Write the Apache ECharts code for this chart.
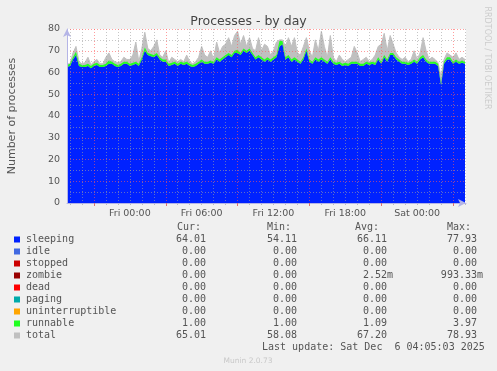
<!DOCTYPE html>
<html><head><meta charset="utf-8">
<script src="https://cdn.jsdelivr.net/npm/echarts@6/dist/echarts.min.js"></script>
<style>html,body{margin:0;padding:0;background:#f0f0f0}#c{width:497px;height:371px}</style>
</head><body><div id="c"></div>
<script>
// time axis: hours relative to Fri 00:00, one sample every 15 minutes starting Thu 18:45
const startHour = -5.25;
const stepHour = 0.25;
const axisMin = -5.25, axisMax = 28.0833;

const sleeping = [
62.5,63,66,68,63,62.5,62.5,63,62,63,63.5,62.5,62.5,63,64,64,63,62.5,63,64,
64,63,63.5,64,63,66,70,68,67.5,67,68,66,65,65,63,63.5,64,63,64,63.5,
64,63,62.5,63,64,65,64,64,64.5,64,66,65,66,67,68,67,69,69,68,70,
69,70,68,66,67,66,65,66,65,66,67,72,73,66,67,65,66,65,64,66,
70,65,64,66,65,66,65,64,66,64,63.5,64,63,63.5,63,64,64,64,63,63,
64,63.5,64,63.5,66,64,67,65,68,68,66,65,64,64,63.5,64,65,64,66,67,
65,64,64,64,63,54.1,64,66,66,64,65,64,64.5,64
];
const runnable = [
1,1,1,1.5,1,1,1,1,1,1,1,1,1,1,1.5,1,1,1,1,1,
1,1,1,1,1,1,1.5,1,1,1,1,1,1,1,1,1,1,1,1,1,
1,1,1,1,1,1,1,1,1,1,1,1,1,1,1,1,1,1.5,1,1,
1,1,1,1,1,1,1,1,1,1,1,2.5,1.5,1,1,1,1,1,1,1,
1,1,1,1,1,1,1,1,1,1,1,1,1,1,1,1,1,1,1,1,
1,1,1,1,1,1,1,1,1,1,1,1,1,1,1,1,1,1,1,1,
1,1,1,1,1,1,1,1,1,1,1,1,1,1
];
const total = [
64,64,69,72,65,64,64.5,67,63.5,65,66,64,64,67,69,66,65,64.5,65,67,
66,66,68,74,65,71,78.5,71,70,72,75,68,67,70,64.5,67,66,65,66,65,
68,65,64,65,67,72,68,67,70,66,74,69,72,73,76,72,77,79,73,77,
72,76,71,70,76,70,73,72,68,70,74,75,75,72,76,72,76,69,68,72,
76,70,67,75,70,79,72,67,77,67,65,68,66,65,66,67,72,69,65,66,
67,65,66,68,72,73,78,70,77,73,69,67,66,67,65,66,70,66,69,76,
70,66,67,66,64.5,58.1,66,69,68,67,69,66,67,66
];

const yMin = 0, yMax = 80, yStep = 10;
const xLabelValues = [0, 6, 12, 18, 24];
const xLabelTexts = ['Fri 00:00', 'Fri 06:00', 'Fri 12:00', 'Fri 18:00', 'Sat 00:00'];
const majorHours = [-3, 3, 9, 15, 21, 27];

const legendNames = ['sleeping','idle','stopped','zombie','dead','paging','uninterruptible','runnable','total'];
const legendColors = ['#0022ff','#4169e1','#cc0000','#990000','#ff0000','#00aaaa','#ffa500','#22ff22','#c0c0c0'];
const curVals = ['64.01','0.00','0.00','0.00','0.00','0.00','0.00','1.00','65.01'];
const minVals = ['54.11','0.00','0.00','0.00','0.00','0.00','0.00','1.00','58.08'];
const avgVals = ['66.11','0.00','0.00','2.52m','0.00','0.00','0.00','1.09','67.20'];
const maxVals = ['77.93','0.00','0.00','993.33m','0.00','0.00','0.00','3.97','78.93'];
const lastUpdate = 'Last update: Sat Dec  6 04:05:03 2025';

// rows are [value, hour] so the stacked dimension is the value (y) one
const toRows = arr => arr.map((v, i) => [v, startHour + i * stepHour]);
const minorHours = [];
for (let h = Math.ceil(axisMin); h <= Math.floor(axisMax); h++) {
  if (majorHours.indexOf(h) < 0) minorHours.push(h);
}

const sans = "'DejaVu Sans', sans-serif";
const mono = "'DejaVu Sans Mono', monospace";
const txt = '#555';
const redGrid = 'rgba(255,90,90,0.6)';
const grayGrid = 'rgba(160,160,160,0.6)';
const axisCol = '#b4b4e6';

const graphics = [];
const rowY0 = 239.5, rowH = 12;
const headers = [['Cur:', 177], ['Min:', 267], ['Avg:', 355], ['Max:', 447]];
headers.forEach(([t, x]) => graphics.push({type:'text', x:x, y:227.5,
  style:{text:t, font:'10px ' + mono, fill:txt, textVerticalAlign:'middle'}}));
const colEdges = [206, 297, 387, 477];
legendNames.forEach((n, i) => {
  const y = rowY0 + i * rowH;
  graphics.push({type:'rect', shape:{x:14, y:y - 3, width:6, height:6}, style:{fill:legendColors[i]}});
  graphics.push({type:'text', x:26, y:y, style:{text:n, font:'10px ' + mono, fill:txt, textVerticalAlign:'middle'}});
  [curVals, minVals, avgVals, maxVals].forEach((arr, c) => {
    const s = arr[i];
    const xr = colEdges[c] + (s.endsWith('m') ? 6 : 0);
    graphics.push({type:'text', x:xr, y:y, style:{text:s, font:'10px ' + mono, fill:txt, textAlign:'right', textVerticalAlign:'middle'}});
  });
});
graphics.push({type:'text', x:262, y:rowY0 + 9 * rowH, style:{text:lastUpdate, font:'10px ' + mono, fill:txt, textVerticalAlign:'middle'}});
graphics.push({type:'text', x:248, y:361, style:{text:'Munin 2.0.73', font:'7.5px ' + sans, fill:'#c8c8c8', textAlign:'center', textVerticalAlign:'middle'}});
graphics.push({type:'text', x:487, y:58, rotation:-Math.PI/2, style:{text:'RRDTOOL / TOBI OETIKER', font:'8px ' + sans, fill:'#cccccc', textAlign:'center', textVerticalAlign:'middle'}});
graphics.push({type:'text', x:12, y:116, rotation:Math.PI/2, style:{text:'Number of processes', font:'11px ' + sans, fill:txt, textAlign:'center', textVerticalAlign:'middle'}});

const lineBase = {type:'line', showSymbol:false, symbol:'none', encode:{x:1, y:0}};

const chart = echarts.init(document.getElementById('c'), null, {renderer:'canvas'});
chart.setOption({
  animation: false,
  backgroundColor: '#f0f0f0',
  title: {text:'Processes - by day', left:'center', top:10,
    textStyle:{fontFamily:sans, fontSize:12.5, fontWeight:'normal', color:'#444'}},
  grid: {left:67, right:31, top:29, bottom:168, show:true, backgroundColor:'#ffffff', borderWidth:0},
  xAxis: [
    {type:'value', min:axisMin, max:axisMax, z:5,
     axisLine:{show:true, onZero:false, lineStyle:{color:axisCol, width:1}, symbol:['none','arrow'], symbolSize:[6,8]},
     axisTick:{show:true, customValues:majorHours, length:3, lineStyle:{color:'#e07070'}},
     axisLabel:{show:true, customValues:xLabelValues, margin:6, fontFamily:sans, fontSize:9.5, color:txt,
       formatter: v => xLabelTexts[xLabelValues.indexOf(Math.round(v))] || ''},
     splitLine:{show:true, lineStyle:{color:redGrid, type:[1,2], width:1}}},
    {type:'value', min:axisMin, max:axisMax, z:4, position:'bottom',
     axisLine:{show:false, onZero:false},
     axisTick:{show:true, customValues:minorHours, length:2, lineStyle:{color:'#bbbbbb'}},
     axisLabel:{show:false},
     splitLine:{show:true, lineStyle:{color:grayGrid, type:[1,2], width:1}}}
  ],
  yAxis: {type:'value', min:yMin, max:yMax, interval:yStep, z:5,
    axisLine:{show:true, onZero:false, lineStyle:{color:axisCol, width:1}, symbol:['none','arrow'], symbolSize:[6,8]},
    axisTick:{show:false},
    axisLabel:{fontFamily:sans, fontSize:9.5, color:txt, margin:7},
    splitLine:{show:true, lineStyle:{color:redGrid, type:[1,2], width:1}},
    minorTick:{show:false, splitNumber:2},
    minorSplitLine:{show:true, lineStyle:{color:grayGrid, type:[1,2], width:1}}},
  series: [
    Object.assign({}, lineBase, {name:'total', data:toRows(total),
     lineStyle:{color:'#c0c0c0', width:1}, areaStyle:{color:'#c0c0c0', opacity:1}, z:1}),
    Object.assign({}, lineBase, {name:'sleeping', stack:'p', data:toRows(sleeping),
     lineStyle:{width:0}, areaStyle:{color:'#0022ff', opacity:1}, z:2}),
    Object.assign({}, lineBase, {name:'runnable', stack:'p', data:toRows(runnable),
     lineStyle:{width:0}, areaStyle:{color:'#22ff22', opacity:1}, z:2})
  ],
  graphic: graphics
});
</script></body></html>
